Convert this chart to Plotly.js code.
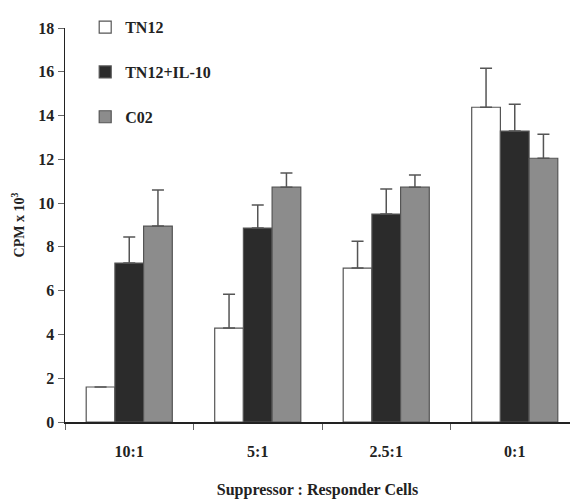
<!DOCTYPE html>
<html><head><meta charset="utf-8">
<script src="https://cdn.plot.ly/plotly-3.0.1.min.js"></script>
<style>html,body{margin:0;padding:0;background:#fff}</style>
</head><body>
<div id="chart" style="width:570px;height:499px"></div>
<script>
const categories = ["10:1", "5:1", "2.5:1", "0:1"];
const seriesNames = ["TN12", "TN12+IL-10", "C02"];
const tn12 = [1.6, 4.29, 7.03, 14.38];
const tn12Err = [0, 1.55, 1.23, 1.78];
const tn12il10 = [7.26, 8.86, 9.5, 13.29];
const tn12il10Err = [1.19, 1.05, 1.14, 1.23];
const c02 = [8.95, 10.73, 10.73, 12.05];
const c02Err = [1.65, 0.64, 0.55, 1.1];
const yTicks = [0, 2, 4, 6, 8, 10, 12, 14, 16, 18];

const fills = ["#ffffff", "#2b2b2b", "#8c8c8c"];
const values = [tn12, tn12il10, c02];
const errs = [tn12Err, tn12il10Err, c02Err];
const font = "Liberation Serif, Times New Roman, serif";

const traces = seriesNames.map((name, i) => ({
  type: "bar",
  name: name,
  legendgroup: "g" + i,
  x: categories,
  y: values[i],
  marker: {color: fills[i], line: {color: "#555", width: 1.2}},
  error_y: {type: "data", array: errs[i], arrayminus: errs[i].map(() => 0), symmetric: false,
            visible: true, color: "#555", thickness: 1.5, width: 6}
}));

const layout = {
  width: 570, height: 499,
  margin: {l: 65, r: 0, t: 28, b: 77},
  paper_bgcolor: "#fff", plot_bgcolor: "#fff",
  barmode: "group", bargap: 0.33, bargroupgap: 0,
  font: {family: font, color: "#222", size: 15},
  showlegend: true,
  legend: {x: 0.04, y: 1.045, xanchor: "left", yanchor: "top", tracegroupgap: 21,
           font: {family: font, size: 16, weight: "bold", color: "#222"}, bgcolor: "rgba(0,0,0,0)"},
  xaxis: {
    type: "category", range: [-0.5, 3.43],
    showline: true, linecolor: "#222", linewidth: 1.5,
    ticks: "outside", tickson: "boundaries", ticklen: 6, tickcolor: "#666", tickwidth: 1,
    ticklabelstandoff: 14,
    tickfont: {family: font, size: 16, weight: "bold", color: "#222"},
    title: {text: "Suppressor : Responder Cells", standoff: 26,
            font: {family: font, size: 16, weight: "bold", color: "#222"}},
    showgrid: false, zeroline: false, fixedrange: true
  },
  yaxis: {
    range: [0, 18], tickvals: yTicks, ticktext: yTicks.map(String),
    showline: true, linecolor: "#222", linewidth: 1.5,
    ticks: "outside", ticklen: 6, tickcolor: "#666", tickwidth: 1,
    tickfont: {family: font, size: 16, weight: "bold", color: "#222"},
    title: {text: "CPM x 10<sup>3</sup>", standoff: 10,
            font: {family: font, size: 14, weight: "bold", color: "#222"}},
    showgrid: false, zeroline: false, fixedrange: true
  }
};
Plotly.newPlot("chart", traces, layout, {displayModeBar: false, staticPlot: true});
</script>
</body></html>
